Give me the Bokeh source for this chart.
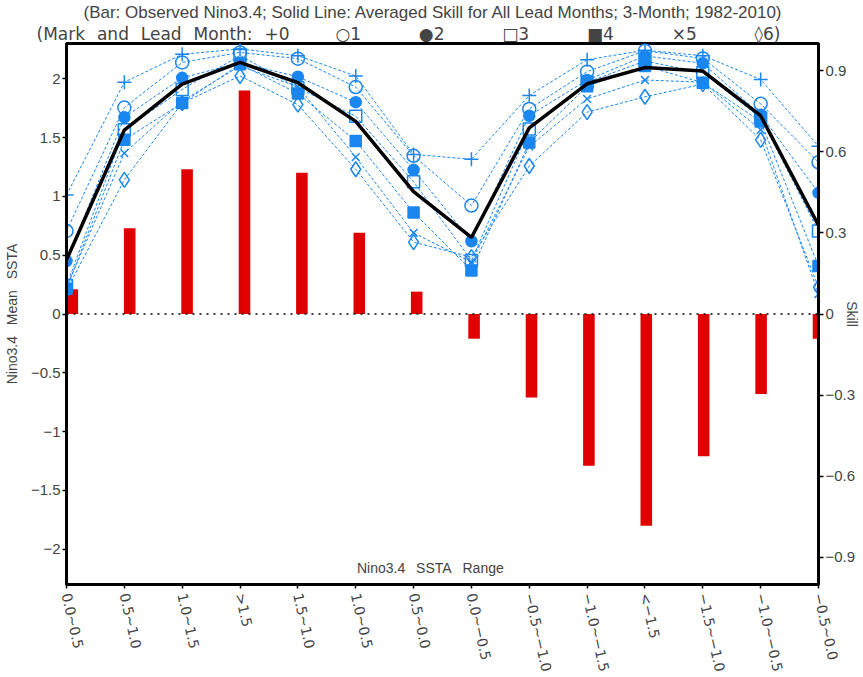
import numpy as np
from bokeh.plotting import figure
from bokeh.models import (Range1d, LinearAxis, FixedTicker, CustomJSTickFormatter,
                          Span, Label, Title)
from bokeh.embed import file_html
from bokeh.resources import INLINE

M = "\u2212"
categories = ["0.0~0.5", "0.5~1.0", "1.0~1.5", ">1.5", "1.5~1.0", "1.0~0.5", "0.5~0.0",
              "0.0~" + M + "0.5", M + "0.5~" + M + "1.0", M + "1.0~" + M + "1.5", "<" + M + "1.5",
              M + "1.5~" + M + "1.0", M + "1.0~" + M + "0.5", M + "0.5~0.0"]

observed_ssta = [0.21, 0.73, 1.23, 1.90, 1.20, 0.69, 0.19, -0.21, -0.71, -1.29, -1.80, -1.21, -0.68, -0.21]

skill_lead0 = [0.44, 0.857, 0.96, 0.98, 0.955, 0.88, 0.59, 0.572, 0.808, 0.94, 0.975, 0.955, 0.867, 0.62]
skill_lead1 = [0.307, 0.763, 0.93, 0.967, 0.944, 0.839, 0.585, 0.401, 0.758, 0.896, 0.973, 0.945, 0.777, 0.561]
skill_lead2 = [0.196, 0.727, 0.873, 0.929, 0.877, 0.783, 0.533, 0.269, 0.733, 0.865, 0.954, 0.927, 0.737, 0.448]
skill_lead3 = [0.105, 0.681, 0.83, 0.956, 0.836, 0.731, 0.489, 0.198, 0.684, 0.857, 0.935, 0.892, 0.725, 0.307]
skill_lead4 = [0.093, 0.644, 0.78, 0.923, 0.815, 0.64, 0.375, 0.161, 0.634, 0.842, 0.917, 0.855, 0.712, 0.177]
skill_lead5 = [0.099, 0.595, 0.787, 0.917, 0.84, 0.58, 0.30, 0.192, 0.619, 0.795, 0.865, 0.857, 0.681, 0.074]
skill_lead6 = [0.087, 0.496, 0.78, 0.88, 0.774, 0.535, 0.266, 0.21, 0.547, 0.746, 0.803, 0.85, 0.644, 0.099]
skill_avg = [0.20, 0.68, 0.85, 0.93, 0.855, 0.712, 0.452, 0.283, 0.688, 0.851, 0.911, 0.898, 0.733, 0.328]

left_ticks = [-2, -1.5, -1, -0.5, 0, 0.5, 1, 1.5, 2]
right_ticks = [-0.9, -0.6, -0.3, 0, 0.3, 0.6, 0.9]

EM, EN, TH = "\u2003", "\u2002", "\u2009"
WGAP = EN + " "
title_line1 = "(Bar: Observed Nino3.4; Solid Line: Averaged Skill for All Lead Months; 3-Month; 1982-2010)"
legend_head = (EN + TH).join(["(Mark", "and", "Lead", "Month:", "+0"])
legend_items = ["\u25cb1", "\u25cf2", "\u25a13", "\u25a04", "\u00d75", "\u25ca6)"]
title_line2 = legend_head + EM + EM + EN + TH + (EM * 3 + TH * 2).join(legend_items)

BLUE = "#1a86f0"
RED = "#e00000"
FONT = "Liberation Sans"

idx = np.arange(len(categories))

p = figure(frame_width=752, frame_height=541, title_location=None,
           x_range=Range1d(0, len(categories) - 1), y_range=Range1d(-2.3, 2.3),
           output_backend="svg", toolbar_location=None,
           min_border_left=58, min_border_right=37, min_border_top=35, min_border_bottom=80)
p.extra_y_ranges = {"skill": Range1d(-1, 1)}
p.grid.visible = False
p.outline_line_color = "black"
p.outline_line_width = 3
p.background_fill_color = "white"
p.border_fill_color = "white"

fmt = CustomJSTickFormatter(code="return tick.toString().replace('-', '\\u2212');")

# bottom axis
xa = p.xaxis[0]
xa.ticker = FixedTicker(ticks=list(idx))
xa.major_label_overrides = {int(i): c for i, c in zip(idx, categories)}
xa.major_label_orientation = -1.35
xa.major_label_text_font = "DejaVu Sans"
xa.major_label_text_font_size = "14px"
xa.major_label_standoff = 5
xa.axis_line_width = 3
xa.major_tick_in = 0
xa.major_tick_out = 4
xa.major_tick_line_width = 1.5
xa.minor_tick_line_color = None

# left axis
ya = p.yaxis[0]
ya.ticker = FixedTicker(ticks=left_ticks)
ya.formatter = fmt
ya.axis_label = WGAP.join(["Nino3.4", "Mean", "SSTA"])
ya.axis_label_text_font = FONT
ya.axis_label_text_font_style = "normal"
ya.axis_label_text_font_size = "14px"
ya.axis_label_standoff = 8
ya.major_label_text_font = FONT
ya.major_label_text_font_size = "15px"
ya.major_label_standoff = 2
ya.axis_line_width = 3
ya.major_tick_in = 0
ya.major_tick_out = 4
ya.major_tick_line_width = 1.5
ya.minor_tick_line_color = None

# right axis
ra = LinearAxis(y_range_name="skill", ticker=FixedTicker(ticks=right_ticks), formatter=fmt)
ra.axis_label = "Skill"
ra.axis_label_text_font = FONT
ra.axis_label_text_font_style = "normal"
ra.axis_label_text_font_size = "14px"
ra.axis_label_standoff = -14
ra.major_label_text_font = FONT
ra.major_label_text_font_size = "15px"
ra.major_label_standoff = 2
ra.axis_line_width = 3
ra.major_tick_in = 0
ra.major_tick_out = 5
ra.major_tick_line_width = 1.5
ra.minor_tick_line_color = None
p.add_layout(ra, "right")

# titles: first added sits closest to the frame
p.add_layout(Title(text=title_line2, align="left", offset=-30,
                   text_font="DejaVu Sans", text_font_size="17px", text_font_style="normal",
                   standoff=0), "above")
p.add_layout(Title(text=title_line1, align="left", offset=17,
                   text_font=FONT, text_font_size="17px", text_font_style="normal",
                   standoff=0), "above")

# bars
bar_center = idx * (1 - 0.1 / (len(categories) - 1)) + 0.1
p.vbar(x=bar_center, width=0.2, top=observed_ssta, bottom=0, fill_color=RED, line_color=None)

p.add_layout(Span(location=0, dimension="width", line_color="black", line_dash="2 5", line_width=1.5))

leads = [
    (skill_lead0, "cross", 14, False),
    (skill_lead1, "circle", 13, False),
    (skill_lead2, "circle", 11, True),
    (skill_lead3, "square", 12, False),
    (skill_lead4, "square", 11, True),
    (skill_lead5, "x", 11, False),
    (skill_lead6, "diamond", 15, False),
]
for vals, mk, sz, filled in leads:
    p.line(idx, vals, y_range_name="skill", line_color=BLUE, line_dash="3 2", line_width=1)
for vals, mk, sz, filled in leads:
    p.scatter(idx, vals, y_range_name="skill", marker=mk, size=sz,
              line_color=BLUE, line_width=1.5,
              fill_color=BLUE if filled else "white", fill_alpha=1 if filled else 0)

p.line(idx, skill_avg, y_range_name="skill", line_color="black", line_width=3.5)

p.add_layout(Label(x=6.29, y=-2.16, text=WGAP.join(["Nino3.4", "SSTA", "Range"]), text_align="center",
                   text_baseline="middle", text_font=FONT, text_font_size="14px"))

open("out.html", "w").write(file_html(p, INLINE))
